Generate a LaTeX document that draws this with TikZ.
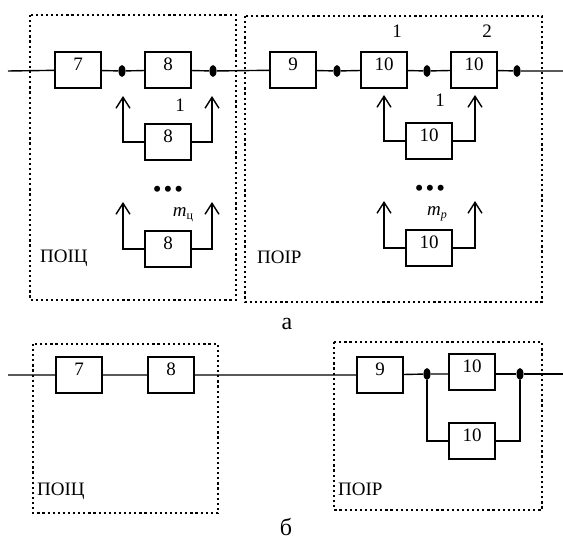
\documentclass[tikz,border=0pt]{standalone}
\usepackage{fontspec}
\setmainfont{Liberation Serif}
\usetikzlibrary{arrows.meta,shapes.geometric}
\begin{document}
\begin{tikzpicture}[x=1pt,y=-1pt,
  blk/.style={draw,line width=1.8pt,minimum width=46pt,minimum height=36pt,
    inner sep=0pt,font=\fontsize{19}{19}\selectfont,text height=13pt,text depth=11pt},
  jn/.style={ellipse,fill,inner sep=0pt,minimum width=7pt,minimum height=12pt},
  wire/.style={line width=1.4pt},
  riser/.style={wire,-{Straight Barb[length=11pt,width=14pt]}},
  zone/.style={line width=2pt,dash pattern=on 2.2pt off 2.9pt},
  lbl/.style={font=\fontsize{19}{19}\selectfont,inner sep=0pt,anchor=base},
  tag/.style={font=\fontsize{19}{19}\selectfont,inner sep=0pt,anchor=base west},
  ell/.style={font=\fontsize{25}{25}\selectfont,inner sep=0pt},
  capt/.style={font=\fontsize{24}{24}\selectfont,inner sep=0pt,anchor=base}
]
\useasboundingbox (0,0) rectangle (563,540);

% ---------- scheme (a) ----------
\draw[zone] (30,15) rectangle (236,300);
\draw[zone] (245,16) rectangle (542,302);

\coordinate (inA) at (8,71);
\coordinate (outA) at (563,71);
\node[blk] (a7) at (78,70) {7};
\node[jn] (aj1) at (122,71) {};
\node[blk] (a8) at (168,70) {8};
\node[jn] (aj2) at (213,71) {};
\node[blk] (a9) at (293,70) {9};
\node[jn] (aj3) at (337,71) {};
\node[blk] (a10a) at (384,70) {10};
\node[jn] (aj4) at (427,71) {};
\node[blk] (a10b) at (474,70) {10};
\node[jn] (aj5) at (517,71) {};

\draw[wire] (inA) -- (a7) -- (aj1) -- (a8) -- (aj2) -- (a9) -- (aj3)
  -- (a10a) -- (aj4) -- (a10b) -- (aj5) -- (outA);

% reserve units of block 8
\node[blk] (a8r1) at (168,142) {8};
\node[blk] (a8rm) at (168,249) {8};
\coordinate (t1) at (123,96);
\coordinate (t2) at (212,96);
\coordinate (t3) at (123,202);
\coordinate (t4) at (212,202);
\draw[riser] (a8r1.west) -| (t1);
\draw[riser] (a8r1.east) -| (t2);
\draw[riser] (a8rm.west) -| (t3);
\draw[riser] (a8rm.east) -| (t4);
\node[lbl] at (180,112) {1};
\node[ell] at (168,192) {\textbullet\hspace{2pt}\textbullet\hspace{2pt}\textbullet};
\node[lbl] at (183,217) {\textit{m}\raisebox{-0.3ex}{\fontsize{12}{12}\selectfont ц}};
\node[tag] at (40,263) {ПОІЦ};

% reserve units of block 10
\node[blk] (a10r1) at (429,141) {10};
\node[blk] (a10rm) at (429,248) {10};
\coordinate (t5) at (384,95);
\coordinate (t6) at (475,95);
\coordinate (t7) at (384,201);
\coordinate (t8) at (475,201);
\draw[riser] (a10r1.west) -| (t5);
\draw[riser] (a10r1.east) -| (t6);
\draw[riser] (a10rm.west) -| (t7);
\draw[riser] (a10rm.east) -| (t8);
\node[lbl] at (397,38) {1};
\node[lbl] at (487,38) {2};
\node[lbl] at (440,107) {1};
\node[ell] at (430,191) {\textbullet\hspace{2pt}\textbullet\hspace{2pt}\textbullet};
\node[lbl] at (437,216) {\textit{m}\raisebox{-0.3ex}{\fontsize{12}{12}\selectfont\textit{p}}};
\node[tag] at (257,264) {ПОІР};

\node[capt] at (287,330) {а};

% ---------- scheme (b) ----------
\draw[zone] (33,344) rectangle (218,513);
\draw[zone] (334,342) rectangle (542,510);

\coordinate (inB) at (8,375);
\coordinate (outB) at (563,374);
\node[blk] (b7) at (79,375) {7};
\node[blk] (b8) at (171,375) {8};
\node[blk] (b9) at (380,375) {9};
\node[jn] (bj1) at (427,374) {};
\node[blk] (b10a) at (472,372) {10};
\node[jn] (bj2) at (520,374) {};
\node[blk] (b10b) at (472,441) {10};

\draw[wire] (inB) -- (b7) -- (b8) -- (b9) -- (bj1) -- (bj1 -| b10a.west);
\draw[wire] (bj2 -| b10a.east) -- (bj2) -- (outB);
\draw[wire] (bj1) |- (b10b.west);
\draw[wire] (b10b.east) -| (bj2);

\node[tag] at (37,495) {ПОІЦ};
\node[tag] at (338,495) {ПОІР};

\node[capt] at (286,535) {б};
\end{tikzpicture}
\end{document}
